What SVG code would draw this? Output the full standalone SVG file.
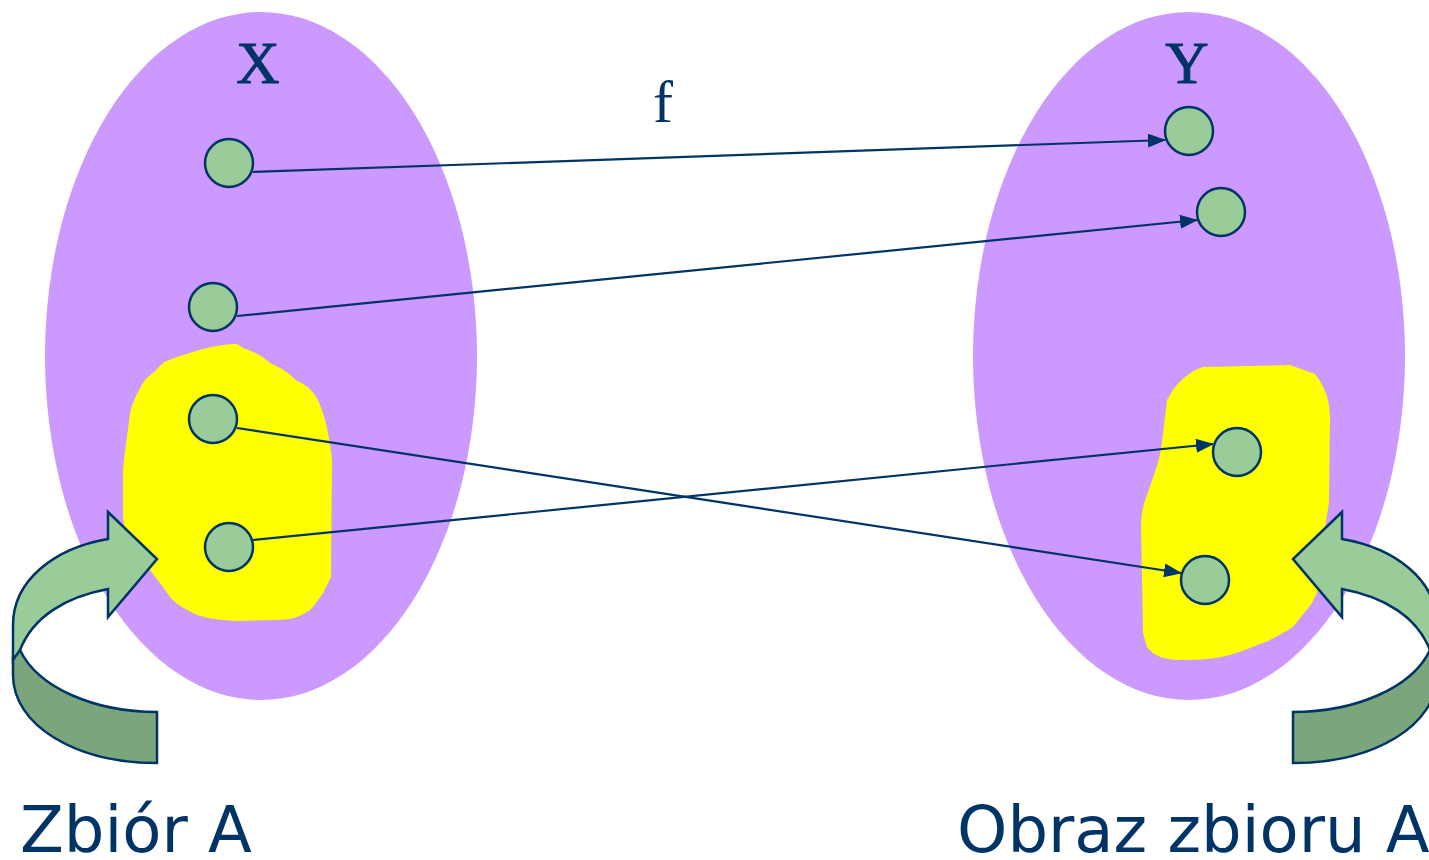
<svg xmlns="http://www.w3.org/2000/svg" width="1429" height="860" viewBox="0 0 1429 860">
<style>
.set{fill:#CC99FF;stroke:none}
.blob{fill:#FFFF00;stroke:none}
.pt{fill:#99CC99;stroke:#003366;stroke-width:2.5}
.lt{fill:#99CC99;stroke:#003366;stroke-width:2.5;stroke-linejoin:miter}
.dk{fill:#7BA57B;stroke:#003366;stroke-width:2.5}
.conn{stroke:#003366;stroke-width:2.2;fill:none;marker-end:url(#ah)}
.ser{font-family:"Liberation Serif","Times New Roman",serif;fill:#003366;text-anchor:middle}
.lab{font-family:"DejaVu Sans",Verdana,sans-serif;font-size:64px;fill:#003366}
</style>
<defs>
<marker id="ah" markerWidth="18" markerHeight="14" refX="17" refY="7" orient="auto" markerUnits="userSpaceOnUse">
<path d="M0,0 L18,7 L0,14 Z" fill="#003366"/>
</marker>
</defs>
<rect width="1429" height="860" fill="#FFFFFF"/>
<g id="setX">
<ellipse class="set" cx="261" cy="356" rx="216" ry="344"/>
<text class="ser" x="258" y="83" font-size="60" stroke="#003366" stroke-width="1">X</text>
</g>
<g id="setY">
<ellipse class="set" cx="1189" cy="356" rx="216" ry="344"/>
<text class="ser" x="1187" y="83" font-size="60" stroke="#003366" stroke-width="1">Y</text>
</g>
<g id="blobA">
<path class="blob" d="M164,362 C190,352 215,344 237,344 L243,348 C255,352 262,356 270,363 C282,368 290,374 297,381 C310,386 317,395 322,410 C327,425 330,440 332,460 L331,577 L323,593 C318,600 315,605 310,610 C300,617 290,620 277,620 L237,621 C215,620 200,617 193,613 C183,608 175,603 170,597 L160,583 L150,570 C135,555 125,540 123,517 L123,470 C125,450 128,430 130,413 C133,400 138,392 143,383 C146,378 150,375 153,373 Z"/>
</g>
<g id="blobFA">
<path class="blob" d="M1173,390 C1180,380 1192,370 1203,367 L1290,365 L1315,374 C1322,383 1327,393 1329,405 L1330,417 L1329,503 C1327,515 1325,527 1323,537 L1318,590 L1312,603 L1293,627 C1283,633 1273,639 1263,643 C1250,648 1240,652 1230,655 C1215,659 1200,660 1180,660 C1163,660 1153,655 1147,647 L1143,633 L1141,525 C1141,515 1143,505 1147,495 L1157,466 C1160,455 1162,445 1163,433 L1167,400 Z"/>
</g>
<g id="curvedArrowLeft">
<path class="dk" d="M20,650 C38,688 95,712 157,712 L157,763 C75,763 13,725 13,675 L13,657 Z"/>
<path class="lt" d="M13,660 L13,625 C13,580 55,548 108,539 L108,512 L157,559 L108,617 L108,589 C65,597 33,617 20,650 Z"/>
</g>
<g id="curvedArrowRight" transform="translate(1450,0) scale(-1,1)">
<path class="dk" d="M20,650 C38,688 95,712 157,712 L157,763 C75,763 13,725 13,675 L13,657 Z"/>
<path class="lt" d="M13,660 L13,625 C13,580 55,548 108,539 L108,512 L157,559 L108,617 L108,589 C65,597 33,617 20,650 Z"/>
</g>
<g id="x1"><circle class="pt" cx="229" cy="163" r="24"/></g>
<g id="x2"><circle class="pt" cx="213" cy="307" r="24"/></g>
<g id="x3"><circle class="pt" cx="213" cy="419" r="24"/></g>
<g id="x4"><circle class="pt" cx="229" cy="547" r="24"/></g>
<g id="y1"><circle class="pt" cx="1189" cy="131" r="24"/></g>
<g id="y2"><circle class="pt" cx="1221" cy="212" r="24"/></g>
<g id="y3"><circle class="pt" cx="1237" cy="452" r="24"/></g>
<g id="y4"><circle class="pt" cx="1205" cy="580" r="24"/></g>
<g id="connectors">
<line class="conn" x1="253" y1="172" x2="1165" y2="140"/>
<line class="conn" x1="237" y1="316" x2="1197" y2="220"/>
<line class="conn" x1="237" y1="428" x2="1181" y2="573"/>
<line class="conn" x1="253" y1="540" x2="1213" y2="444"/>
<text class="ser" x="663" y="122" font-size="60">f</text>
</g>
<g id="labels">
<text class="lab" x="20" y="852">Zbiór A</text>
<text class="lab" x="957" y="852">Obraz zbioru A</text>
</g>
</svg>
